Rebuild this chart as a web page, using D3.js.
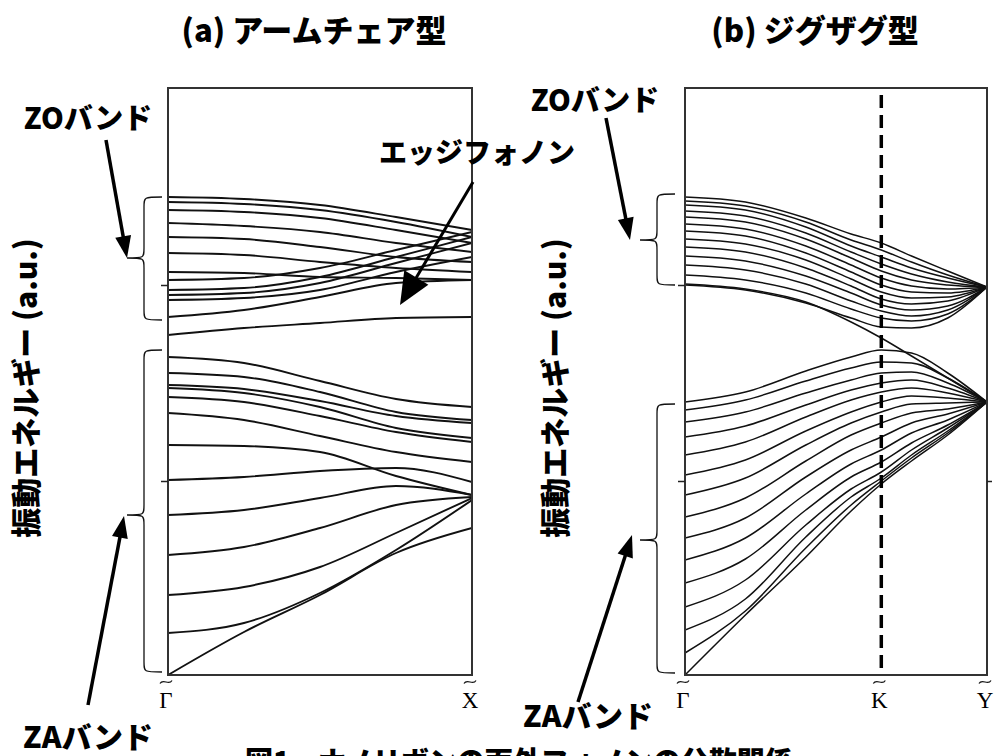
<!DOCTYPE html>
<html><head><meta charset="utf-8">
<script src="https://cdn.jsdelivr.net/npm/d3@7"></script>
<style>body{margin:0;background:#fff} svg{display:block}</style>
</head><body>
<svg id="c" width="995" height="756"></svg>
<script>
// ---------- DATA (energies in arbitrary units) ----------
const armK = [0, 0.25, 0.5, 0.75, 1];
const armZO = [
  [478, 476, 470, 458, 445],
  [473, 471, 465, 453, 438],
  [465, 463, 457, 445, 432],
  [452, 449, 443, 432, 423],
  [438, 436, 428, 418, 413],
  [422, 420, 413, 407, 403],
  [403, 402, 398, 397, 395],
  [395, 397, 407, 425, 443],
  [385, 387, 398, 418, 438],
  [380, 382, 392, 412, 432],
  [375, 377, 385, 403, 418],
  [358, 365, 378, 392, 395]
];
const armEdge = [340, 347, 352, 357, 358];
const armZA = [
  [318, 312, 294, 276, 268],
  [302, 298, 283, 263, 255],
  [290, 286, 274, 259, 252],
  [287, 282, 268, 247, 237],
  [278, 273, 259, 243, 233],
  [262, 255, 239, 223, 213],
  [230, 229, 223, 199, 180],
  [195, 198, 204, 207, 193],
  [160, 165, 177, 189, 180],
  [120, 128, 147, 170, 178],
  [80, 88, 108, 142, 177],
  [42, 52, 82, 125, 175],
  [0, 43, 80, 122, 147]
];
const zigK = [0, 0.2, 0.4, 0.55, 0.65, 0.75, 0.87, 1];
const zigZO = [
  [478, 473, 457, 441, 432, 419, 404, 388],
  [474, 469, 453, 435, 425, 413, 400, 388],
  [470, 465, 448, 429, 418, 407, 397, 388],
  [464, 459, 442, 423, 411, 401, 393, 388],
  [458, 453, 436, 417, 404, 395, 390, 388],
  [451, 446, 429, 410, 397, 389, 386, 388],
  [444, 439, 422, 403, 390, 383, 382, 388],
  [436, 431, 415, 396, 383, 377, 378, 388],
  [428, 423, 407, 389, 376, 371, 374, 388],
  [419, 414, 399, 382, 370, 365, 369, 388],
  [410, 405, 391, 374, 364, 359, 365, 388],
  [400, 395, 382, 366, 357, 354, 361, 388],
  [390, 385, 372, 357, 348, 347, 357, 388]
];
const zigCross = [391, 386, 373, 353, 337, 319, 297, 273];
const zigZA = [
  [273, 283, 304, 318, 325, 322, 302, 273],
  [265, 275, 294, 307, 313, 312, 297, 273],
  [253, 263, 282, 295, 302, 303, 292, 273],
  [238, 249, 270, 285, 292, 295, 287, 273],
  [220, 233, 258, 275, 283, 287, 282, 273],
  [200, 215, 244, 263, 273, 279, 277, 273],
  [180, 197, 230, 252, 263, 271, 272, 273],
  [158, 177, 214, 240, 252, 262, 266, 273],
  [137, 157, 198, 225, 238, 252, 261, 273],
  [115, 137, 181, 211, 225, 242, 255, 273],
  [92, 116, 165, 198, 213, 232, 250, 273],
  [68, 95, 150, 186, 203, 225, 247, 273],
  [45, 76, 138, 178, 197, 220, 244, 273],
  [22, 64, 127, 170, 194, 217, 242, 273],
  [0, 60, 118, 164, 191, 214, 240, 273]
];
const armPoints = ["Γ", "X"];
const armPointK = [0, 1];
const zigPoints = ["Γ", "K", "Y"];
const zigPointK = [0, 0.65, 1];
const energyTicks = [194, 390];
const titles = ["(a) アームチェア型", "(b) ジグザグ型"];
const yLabel = "振動エネルギー (a.u.)";
const caption = "図1　ナノリボンの面外フォノンの分散関係";

// ---------- DRAW ----------
const svg = d3.select("#c");
const JP = "'Noto Sans CJK JP', 'Noto Sans', sans-serif";
const SERIF = "'Liberation Serif', 'DejaVu Serif', serif";

const y = d3.scaleLinear().domain([0, 587]).range([675, 88]);

function tilde(cx, cy) {
  svg.append("path")
    .attr("d", `M${cx - 6},${cy + 1.5} C${cx - 3},${cy - 4} ${cx + 3},${cy + 4} ${cx + 6},${cy - 1.5}`)
    .attr("fill", "none").attr("stroke", "#111").attr("stroke-width", 1.2);
}

function panel(x0, x1, kArr, bands, extra, pts, ptK, sw, rightTick) {
  const x = d3.scaleLinear().domain([0, 1]).range([x0, x1]);
  const g = svg.append("g");
  const id = "clip" + x0;
  svg.append("clipPath").attr("id", id).append("rect")
    .attr("x", x0).attr("y", 88).attr("width", x1 - x0).attr("height", 587);
  const line = d3.line().x((d, i) => x(kArr[i])).y(d => y(d)).curve(d3.curveMonotoneX);
  const lg = g.append("g").attr("clip-path", `url(#${id})`);
  lg.selectAll("path.band").data(bands.concat(extra)).join("path")
    .attr("class", "band").attr("d", line)
    .attr("fill", "none").attr("stroke", "#111").attr("stroke-width", sw);
  g.append("rect").attr("x", x0).attr("y", 88).attr("width", x1 - x0).attr("height", 587)
    .attr("fill", "none").attr("stroke", "#333").attr("stroke-width", 2);
  const axL = d3.axisLeft(y).tickValues(energyTicks).tickSize(7).tickFormat("");
  const a = g.append("g").attr("transform", `translate(${x0},0)`).call(axL);
  a.select(".domain").remove();
  a.selectAll("line").attr("stroke", "#222").attr("stroke-width", 1.5);
  if (rightTick) {
    const axR = d3.axisRight(y).tickValues([energyTicks[0]]).tickSize(5).tickFormat("");
    const b = g.append("g").attr("transform", `translate(${x1},0)`).call(axR);
    b.select(".domain").remove();
    b.selectAll("line").attr("stroke", "#222").attr("stroke-width", 1.5);
  }
  pts.forEach((p, i) => {
    const px = x(ptK[i]) - 2;
    tilde(px, 682);
    svg.append("text").attr("x", px).attr("y", 708).attr("text-anchor", "middle")
      .attr("font-family", SERIF).attr("font-size", 23).text(p);
  });
  return x;
}

panel(168, 472, armK, armZO, [armEdge].concat(armZA), armPoints, armPointK, 1.9, false);
const xb = panel(685, 987, zigK, zigZO, [zigCross].concat(zigZA), zigPoints, zigPointK, 1.5, true);

// dashed line at K
svg.append("line").attr("x1", xb(zigPointK[1])).attr("x2", xb(zigPointK[1]))
  .attr("y1", 95).attr("y2", 675).attr("stroke", "#000").attr("stroke-width", 3.5)
  .attr("stroke-dasharray", "13,7");

// braces
function brace(xt, xm, xe, y0, y1, yt) {
  const r = 10;
  const p = `M${xe},${y0} C${xm},${y0} ${xm},${y0} ${xm},${y0 + r} L${xm},${yt - r} C${xm},${yt} ${xm},${yt} ${xt},${yt}` +
    ` C${xm},${yt} ${xm},${yt} ${xm},${yt + r} L${xm},${y1 - r} C${xm},${y1} ${xm},${y1} ${xe},${y1}`;
  svg.append("path").attr("d", p).attr("fill", "none").attr("stroke", "#111").attr("stroke-width", 1.3);
}
brace(127, 144, 162, 197, 320, 258);
brace(127, 144, 162, 350, 672, 515);
brace(640, 657, 675, 194, 285, 240);
brace(640, 657, 675, 404, 673, 540);

// arrows
function arrow(x1, y1, x2, y2, h, w, sw) {
  const dx = x2 - x1, dy = y2 - y1, L = Math.hypot(dx, dy), ux = dx / L, uy = dy / L;
  const bx = x2 - ux * h, by = y2 - uy * h;
  svg.append("line").attr("x1", x1).attr("y1", y1).attr("x2", bx + ux * 2).attr("y2", by + uy * 2)
    .attr("stroke", "#000").attr("stroke-width", sw);
  svg.append("path").attr("d", `M${x2},${y2} L${bx - uy * w / 2},${by + ux * w / 2} L${bx + uy * w / 2},${by - ux * w / 2} Z`)
    .attr("fill", "#000");
}
arrow(106, 140, 127, 258, 22, 16, 3.5);
arrow(473, 182, 400, 305, 32, 28, 3);
arrow(88, 705, 124, 516, 22, 16, 3.5);
arrow(606, 118, 630, 240, 22, 16, 3.5);
arrow(578, 702, 632, 535, 22, 16, 3.5);

// texts
function txt(s, x, yy, size, anchor, rot) {
  const t = svg.append("text").attr("font-family", JP).attr("font-weight", 900)
    .attr("font-size", size).attr("text-anchor", anchor || "middle").text(s);
  if (rot) t.attr("transform", `translate(${x},${yy}) rotate(-90)`).attr("dominant-baseline", "central");
  else t.attr("x", x).attr("y", yy);
  return t;
}
txt(titles[0], 314, 42, 31);
txt(titles[1], 815, 42, 31);
txt("ZOバンド", 88, 129, 29);
txt("ZOバンド", 595, 111, 29);
txt("エッジフォノン", 477, 163, 28);
txt("ZAバンド", 88, 748, 30);
txt("ZAバンド", 588, 727, 30);
txt(yLabel, 24, 388, 30, "middle", true);
txt(yLabel, 553, 388, 30, "middle", true);
txt(caption, 245, 772, 28, "start");
</script>
</body></html>
